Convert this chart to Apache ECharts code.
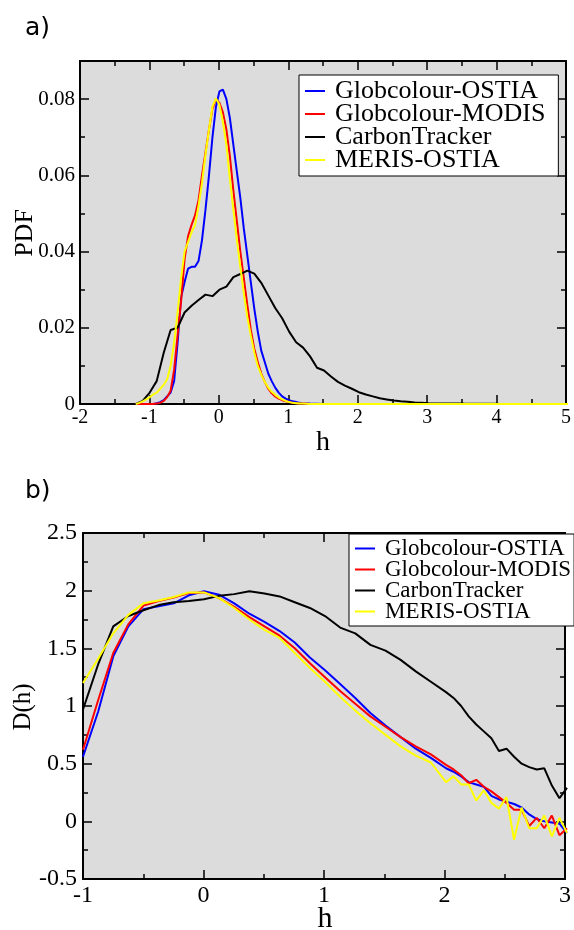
<!DOCTYPE html>
<html>
<head>
<meta charset="utf-8">
<script src="https://cdn.jsdelivr.net/npm/echarts@6/dist/echarts.min.js"></script>
<style>
html, body { margin: 0; padding: 0; background: #fff; }
#wrap { position: relative; width: 574px; height: 930px; }
#frame, #plot { position: absolute; left: 0; top: 0; width: 574px; height: 930px; }
</style>
</head>
<body>
<div id="wrap">
  <div id="frame"></div>
  <div id="plot"></div>
</div>
<script>
// ---- a) PDF of h ----
var seriesNames = ['Globcolour-OSTIA', 'Globcolour-MODIS', 'CarbonTracker', 'MERIS-OSTIA'];
var seriesColors = ['#0000ff', '#ff0000', '#000000', '#ffff00'];

var hPdf = [-1.2, -1.15, -1.1, -1.05, -1.0, -0.95, -0.9, -0.85, -0.8, -0.75, -0.7, -0.65, -0.6, -0.55,
  -0.5, -0.45, -0.4, -0.35, -0.3, -0.25, -0.2, -0.15, -0.1, -0.05, 0, 0.05, 0.1, 0.15, 0.2, 0.25, 0.3,
  0.35, 0.4, 0.45, 0.5, 0.55, 0.6, 0.65, 0.7, 0.75, 0.8, 0.85, 0.9, 0.95, 1.0, 1.05, 1.1, 1.15, 1.2,
  1.3, 1.5, 5.0];
var pdfOstia = [0, 0, 0, 0, 0, 0, 0.0002, 0.0005, 0.001, 0.002, 0.003, 0.006, 0.016, 0.028,
  0.032, 0.0355, 0.036, 0.036, 0.0375, 0.043, 0.051, 0.060, 0.070, 0.078, 0.082, 0.0825, 0.080, 0.075, 0.068, 0.061, 0.054,
  0.046, 0.039, 0.032, 0.025, 0.019, 0.014, 0.011, 0.008, 0.006, 0.0043, 0.003, 0.002, 0.0014, 0.001, 0.0007, 0.0005, 0.0003, 0.0002,
  0.0001, 0, 0];
var pdfModis = [0, 0, 0, 0, 0, 0, 0.0001, 0.0003, 0.0008, 0.0018, 0.0035, 0.009, 0.018, 0.027,
  0.038, 0.044, 0.047, 0.0495, 0.0535, 0.060, 0.066, 0.072, 0.0775, 0.0800, 0.0790, 0.0765, 0.072, 0.065, 0.056, 0.048, 0.040,
  0.033, 0.026, 0.0195, 0.0145, 0.011, 0.008, 0.0058, 0.004, 0.0028, 0.002, 0.0014, 0.001, 0.0007, 0.0005, 0.0003, 0.0002, 0.0001, 0.0001,
  0, 0, 0];
var pdfMeris = [0, 0.0003, 0.0007, 0.0012, 0.0018, 0.0025, 0.003, 0.004, 0.005, 0.0065, 0.010, 0.016, 0.024, 0.033,
  0.040, 0.0425, 0.045, 0.047, 0.052, 0.058, 0.0655, 0.072, 0.078, 0.0802, 0.0785, 0.074, 0.068, 0.059, 0.051, 0.043, 0.036,
  0.029, 0.0228, 0.018, 0.0135, 0.010, 0.0077, 0.0058, 0.0043, 0.0032, 0.0024, 0.0017, 0.0012, 0.0008, 0.0005, 0.0003, 0.0002, 0.0001, 0.0001,
  0, 0, 0];

var hPdfCarbon = [-1.2, -1.1, -1.0, -0.9, -0.8, -0.7, -0.6, -0.5, -0.4, -0.3, -0.2, -0.1, 0, 0.1, 0.2, 0.3, 0.4, 0.5,
  0.6, 0.7, 0.8, 0.9, 1.0, 1.1, 1.2, 1.3, 1.4, 1.5, 1.6, 1.7, 1.8, 1.9, 2.0, 2.1, 2.2, 2.3, 2.4, 2.5, 2.6, 2.7,
  2.8, 2.9, 3.0, 3.5, 4.0, 5.0];
var pdfCarbon = [0, 0.0008, 0.003, 0.006, 0.0134, 0.0194, 0.0200, 0.0240, 0.0258, 0.0273, 0.0287, 0.0283, 0.0300, 0.0308,
  0.0333, 0.0341, 0.0350, 0.0342, 0.0318, 0.0285, 0.0252, 0.0225, 0.0190, 0.0162, 0.0148, 0.0125, 0.0095, 0.0088, 0.0072,
  0.0058, 0.0048, 0.0040, 0.0031, 0.0025, 0.0020, 0.0015, 0.0012, 0.0009, 0.0007, 0.0006, 0.0004, 0.0003, 0.0002,
  0.0001, 0.00005, 0];

// ---- b) D(h) ----
var hD = [-1, -0.875, -0.75, -0.625, -0.5, -0.375, -0.25, -0.125, 0, 0.125, 0.25, 0.375, 0.5, 0.625, 0.75, 0.875,
  1, 1.125, 1.25, 1.375, 1.5, 1.625, 1.75, 1.875, 2, 2.0625, 2.125, 2.1875, 2.25, 2.3125, 2.375, 2.4375, 2.5,
  2.5625, 2.625, 2.6875, 2.75, 2.8125, 2.875, 2.9375, 3];
var dOstia = [0.56, 0.95, 1.43, 1.69, 1.84, 1.865, 1.89, 1.96, 1.995, 1.965, 1.89, 1.80, 1.73, 1.65, 1.55, 1.42,
  1.31, 1.19, 1.07, 0.94, 0.83, 0.73, 0.63, 0.55, 0.46, 0.43, 0.39, 0.34, 0.32, 0.30, 0.22, 0.19, 0.17,
  0.15, 0.12, 0.06, 0.02, 0.0, -0.01, -0.02, -0.10];
var dModis = [0.62, 1.05, 1.46, 1.71, 1.87, 1.91, 1.94, 1.98, 1.985, 1.935, 1.86, 1.77, 1.69, 1.61, 1.50, 1.37,
  1.25, 1.13, 1.02, 0.91, 0.82, 0.73, 0.65, 0.58, 0.49, 0.45, 0.40, 0.33, 0.36, 0.30, 0.26, 0.21, 0.16,
  0.10, 0.10, -0.04, 0.03, -0.06, 0.05, -0.12, -0.06];
var dCarbon = [0.97, 1.36, 1.69, 1.78, 1.83, 1.875, 1.90, 1.91, 1.925, 1.955, 1.97, 1.995, 1.975, 1.95, 1.90, 1.85,
  1.78, 1.68, 1.63, 1.53, 1.48, 1.40, 1.30, 1.21, 1.12, 1.07, 1.00, 0.91, 0.84, 0.78, 0.72, 0.61, 0.63,
  0.56, 0.50, 0.47, 0.45, 0.46, 0.31, 0.20, 0.29];
var dMeris = [1.20, 1.41, 1.63, 1.79, 1.89, 1.915, 1.945, 1.985, 1.985, 1.935, 1.85, 1.75, 1.66, 1.59, 1.46, 1.33,
  1.21, 1.08, 0.96, 0.85, 0.75, 0.65, 0.57, 0.51, 0.34, 0.39, 0.32, 0.32, 0.18, 0.27, 0.16, 0.11, 0.21,
  -0.16, 0.12, -0.06, -0.06, 0.05, -0.13, 0.03, -0.10];

var SERIF = '"Liberation Serif", "Times New Roman", serif';
var gridA = { left: 80, top: 61, width: 488, height: 343 };
var gridB = { left: 83, top: 533, width: 484, height: 346 };
var rangeA = { x: [-2, 5, 1], y: [0, 0.09, 0.02] };
var rangeB = { x: [-1, 3, 1], y: [-0.5, 2.5, 0.5] };

function pairs(xs, ys) {
  return xs.map(function (x, i) { return [x, ys[i]]; });
}

// value axis with inside ticks; two per direction give ticks on all four sides
function axis(grid, pos, r, o) {
  o = o || {};
  var a = {
    type: 'value', gridIndex: grid, position: pos, min: r[0], max: r[1], interval: r[2], z: 10,
    axisLine: { show: true, onZero: false, lineStyle: { color: '#000', width: 2 } },
    axisTick: { show: true, inside: true, length: 9, lineStyle: { color: '#000', width: 1.5 } },
    minorTick: { show: true, splitNumber: 2, length: 5, lineStyle: { color: '#000', width: 1.5 } },
    splitLine: { show: false },
    axisLabel: { show: false }
  };
  if (o.labels) {
    a.axisLabel = { show: true, color: '#000', fontFamily: SERIF, fontSize: o.fontSize, margin: o.margin,
      showMinLabel: true, showMaxLabel: true };
    if (o.hideAbove != null) {
      a.axisLabel.formatter = function (v) { return v > o.hideAbove ? '' : String(+v.toFixed(2)); };
    }
  }
  return a;
}

// same scale as the frame axis, nothing drawn
function hiddenAxis(grid, r) {
  return { type: 'value', gridIndex: grid, min: r[0], max: r[1], show: false };
}

function legendBox(top, left, size, lh, gap, pad) {
  return {
    data: seriesNames, orient: 'vertical', left: left, top: top,
    icon: 'rect', itemWidth: 20, itemHeight: 2, itemGap: gap,
    padding: pad, backgroundColor: '#fff', borderColor: '#000', borderWidth: 1,
    selectedMode: false, z: 20,
    textStyle: { color: '#000', fontFamily: SERIF, fontSize: size, lineHeight: lh, padding: [0, 0, 0, 5] }
  };
}

function label(text, x, y, size, rotated) {
  return {
    type: 'text', x: x, y: y, rotation: rotated ? Math.PI / 2 : 0, silent: true,
    style: { text: text, fill: '#000', font: size + 'px ' + SERIF,
      align: 'center', verticalAlign: 'middle', textAlign: 'center', textVerticalAlign: 'middle' }
  };
}

// bottom layer: plot backgrounds, frames, ticks and tick labels
var frame = echarts.init(document.getElementById('frame'));
frame.setOption({
  animation: false,
  grid: [
    Object.assign({ show: true, backgroundColor: '#dcdcdc', borderWidth: 0 }, gridA),
    Object.assign({ show: true, backgroundColor: '#dcdcdc', borderWidth: 0 }, gridB)
  ],
  xAxis: [
    axis(0, 'bottom', rangeA.x, { labels: true, fontSize: 20, margin: 4 }),
    axis(0, 'top', rangeA.x),
    axis(1, 'bottom', rangeB.x, { labels: true, fontSize: 24, margin: 5 }),
    axis(1, 'top', rangeB.x)
  ],
  yAxis: [
    axis(0, 'left', rangeA.y, { labels: true, fontSize: 21, margin: 5, hideAbove: 0.085 }),
    axis(0, 'right', rangeA.y),
    axis(1, 'left', rangeB.y, { labels: true, fontSize: 24, margin: 6 }),
    axis(1, 'right', rangeB.y)
  ]
});

// top layer: curves, legends, titles
var pdfData = [pairs(hPdf, pdfOstia), pairs(hPdf, pdfModis), pairs(hPdfCarbon, pdfCarbon), pairs(hPdf, pdfMeris)];
var dData = [pairs(hD, dOstia), pairs(hD, dModis), pairs(hD, dCarbon), pairs(hD, dMeris)];

var series = [];
seriesNames.forEach(function (name, i) {
  series.push({ name: name, type: 'line', xAxisIndex: 0, yAxisIndex: 0, data: pdfData[i], color: seriesColors[i],
    symbol: 'none', lineStyle: { color: seriesColors[i], width: 2 } });
});
seriesNames.forEach(function (name, i) {
  series.push({ name: name, type: 'line', xAxisIndex: 1, yAxisIndex: 1, data: dData[i], color: seriesColors[i],
    symbol: 'none', lineStyle: { color: seriesColors[i], width: 2 } });
});

var plot = echarts.init(document.getElementById('plot'));
plot.setOption({
  animation: false,
  backgroundColor: 'transparent',
  title: [
    { text: 'a)', left: 20, top: 11, textStyle: { fontFamily: 'DejaVu Sans', fontSize: 25, fontWeight: 'normal', color: '#000' } },
    { text: 'b)', left: 20, top: 474, textStyle: { fontFamily: 'DejaVu Sans', fontSize: 25, fontWeight: 'normal', color: '#000' } }
  ],
  graphic: [
    label('h', 323, 443, 28, false),
    label('PDF', 25, 233, 26, true),
    label('h', 325, 919, 30, false),
    label('D(h)', 23, 707, 25, true)
  ],
  grid: [
    Object.assign({ show: false }, gridA),
    Object.assign({ show: false }, gridB)
  ],
  xAxis: [hiddenAxis(0, rangeA.x), hiddenAxis(1, rangeB.x)],
  yAxis: [hiddenAxis(0, rangeA.y), hiddenAxis(1, rangeB.y)],
  legend: [
    legendBox(75, 299, 26, 23, -3, [3, 13, 3, 6]),
    legendBox(534, 349, 23, 21, -2, [3, 3, 3, 6])
  ],
  series: series
});
</script>
</body>
</html>
